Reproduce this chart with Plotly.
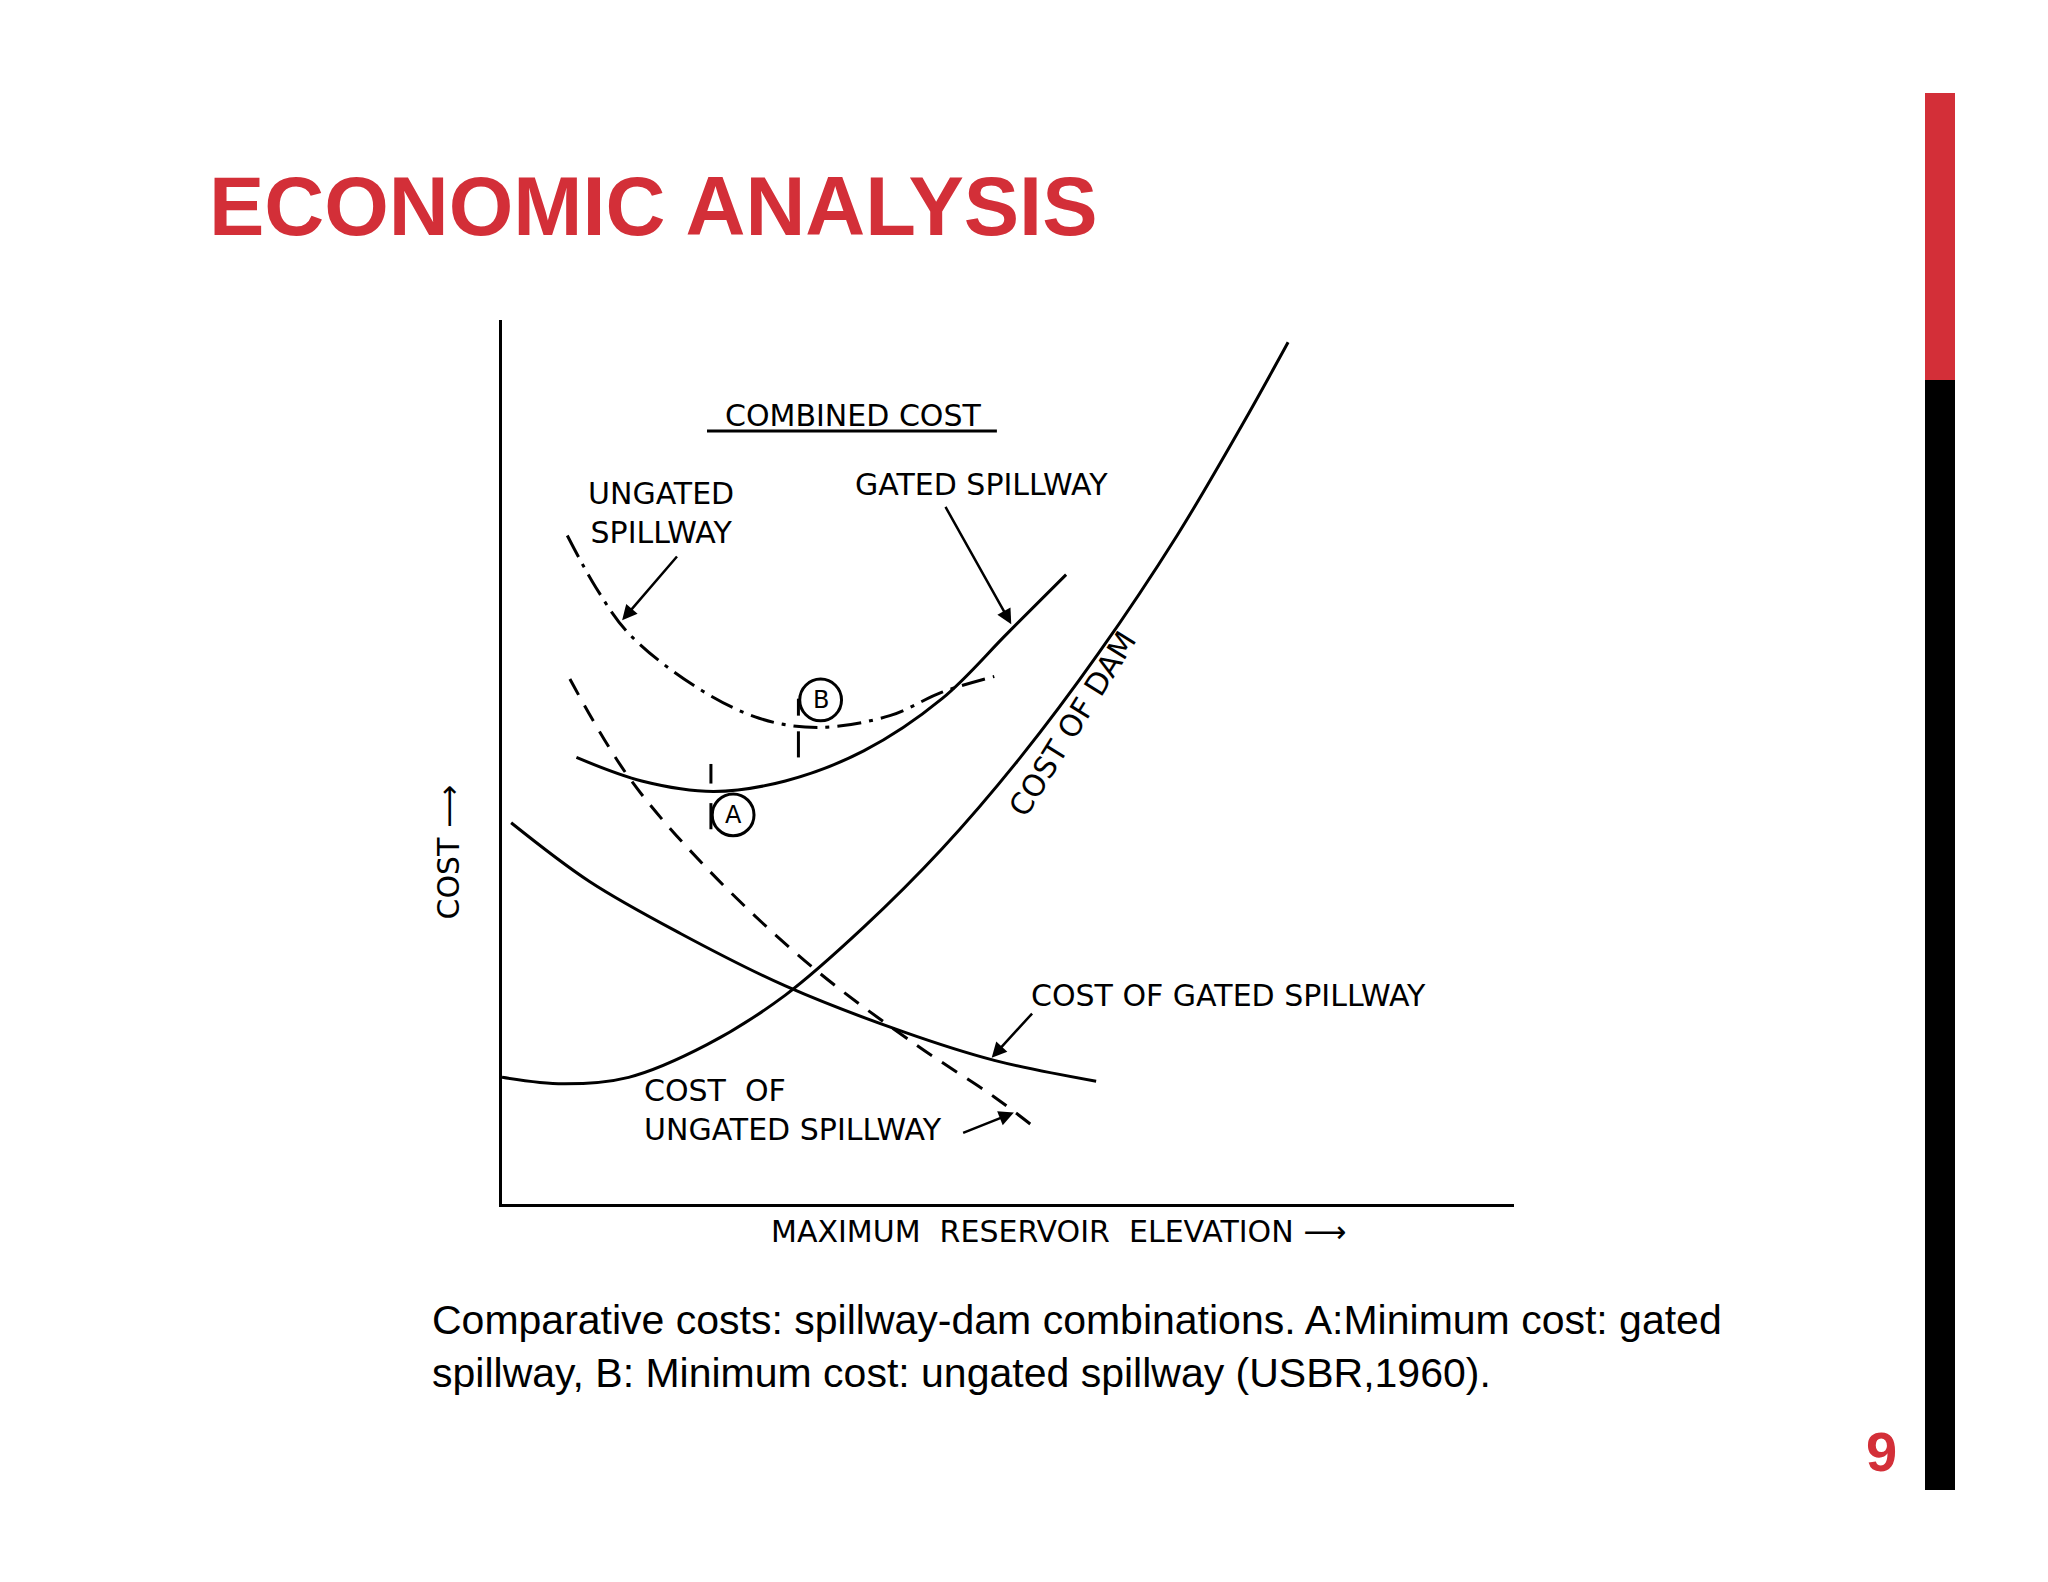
import plotly.graph_objects as go

dam_x = [0, 47, 97, 157, 217, 277, 337, 397, 457, 517, 567, 602]
dam_y = [97, 92, 97, 122, 160, 212, 272, 342, 422, 512, 597, 660]
gsp_x = [7, 67, 137, 217, 307, 377, 455]
gsp_y = [292, 247, 207, 167, 132, 110, 94]
usp_x = [52, 97, 157, 237, 317, 377, 410]
usp_y = [402, 327, 257, 182, 122, 82, 57]
cg_x = [57, 107, 162, 217, 277, 337, 387, 432]
cg_y = [342, 324, 316, 324, 347, 387, 437, 482]
cu_x = [50, 72, 97, 147, 197, 242, 297, 337, 377]
cu_y = [512, 472, 437, 397, 372, 365, 374, 392, 404]

fig = go.Figure()
line = dict(color="black", width=3, shape="spline")
fig.add_trace(go.Scatter(x=dam_x, y=dam_y, mode="lines", line=line))
fig.add_trace(go.Scatter(x=gsp_x, y=gsp_y, mode="lines", line=line))
fig.add_trace(go.Scatter(x=usp_x, y=usp_y, mode="lines", line=dict(line, dash="18px,12px")))
fig.add_trace(go.Scatter(x=cg_x, y=cg_y, mode="lines", line=line))
fig.add_trace(go.Scatter(x=cu_x, y=cu_y, mode="lines", line=dict(line, dash="24px,8px,4px,8px")))

F = dict(family="DejaVu Sans", size=30, color="black")
ann = [
    dict(x=269, y=604, text="COMBINED COST"),
    dict(x=122, y=529, text="UNGATED<br>SPILLWAY"),
    dict(x=367, y=551, text="GATED SPILLWAY"),
    dict(x=437, y=368, text="COST OF DAM", textangle=-58),
    dict(x=556, y=160, text="COST OF GATED SPILLWAY"),
    dict(x=107, y=72, text="COST  OF<br>UNGATED SPILLWAY", xanchor="left", align="left"),
    dict(x=177, y=298, text="A", font=dict(F, size=24)),
    dict(x=244, y=386, text="B", font=dict(F, size=24)),
]
for a in ann:
    a.setdefault("font", F)
    a.setdefault("showarrow", False)
    a.update(xref="x", yref="y")
    fig.add_annotation(**a)
fig.add_annotation(xref="paper", yref="paper", x=1050/2048, y=1-1243/1582, showarrow=False,
                   text="MAXIMUM  RESERVOIR  ELEVATION ⟶", font=F)
fig.add_annotation(xref="paper", yref="paper", x=420/2048, y=1-845/1582, showarrow=False,
                   text="COST ⟶", textangle=-90, font=F)

arrows = [((135, 497), (92, 447)), ((339, 535), (390, 444)),
          ((407, 147), (375, 112)), ((352, 54), (392, 70))]
for (x0, y0), (x1, y1) in arrows:
    fig.add_annotation(x=x1, y=y1, ax=x0, ay=y0, xref="x", yref="y", axref="x", ayref="y",
                       showarrow=True, arrowhead=2, arrowsize=1.2, arrowwidth=2.5,
                       arrowcolor="black", text="")

shapes = [
    dict(type="line", x0=157, x1=379, y0=592, y1=592),
    dict(type="circle", x0=161, x1=193, y0=282, y1=314),
    dict(type="circle", x0=228, x1=260, y0=370, y1=402),
    dict(type="line", x0=160, x1=160, y0=322, y1=337),
    dict(type="line", x0=160, x1=160, y0=287, y1=307),
    dict(type="line", x0=227, x1=227, y0=374, y1=387),
    dict(type="line", x0=227, x1=227, y0=342, y1=362),
]
for s in shapes:
    s.update(xref="x", yref="y", line=dict(color="black", width=3))
    fig.add_shape(**s)

# slide decorations
fig.add_shape(type="rect", xref="paper", yref="paper", x0=1917/2048, x1=1947/2048,
              y0=1-372/1582, y1=1-85/1582, fillcolor="#d32f38", line_width=0)
fig.add_shape(type="rect", xref="paper", yref="paper", x0=1917/2048, x1=1947/2048,
              y0=1-1482/1582, y1=1-372/1582, fillcolor="black", line_width=0)
fig.add_annotation(xref="paper", yref="paper", x=199/2048, y=1-150/1582, text="<b>ECONOMIC ANALYSIS</b>",
                   showarrow=False, xanchor="left", font=dict(family="Liberation Sans", size=83, color="#d32f38"))
fig.add_annotation(xref="paper", yref="paper", x=1891/2048, y=1-1477/1582, text="<b>9</b>",
                   showarrow=False, font=dict(family="Liberation Sans", size=56, color="#d32f38"))
fig.add_annotation(xref="paper", yref="paper", x=422/2048, y=1-1390/1582, xanchor="left", align="left",
                   text="Comparative costs: spillway-dam combinations. A:Minimum cost: gated<br>spillway, B: Minimum cost: ungated spillway (USBR,1960).",
                   showarrow=False, font=dict(family="Liberation Sans", size=41, color="black"))

fig.update_xaxes(domain=[494/2048, 1506/2048], range=[0, 775], showgrid=False, zeroline=False,
                 showticklabels=False, ticks="", showline=True, linecolor="black", linewidth=3)
fig.update_yaxes(domain=[1-1196/1582, 1-312/1582], range=[0, 677], showgrid=False, zeroline=False,
                 showticklabels=False, ticks="", showline=True, linecolor="black", linewidth=3)
fig.update_layout(width=2048, height=1582, margin=dict(l=0, r=0, t=0, b=0), showlegend=False,
                  plot_bgcolor="white", paper_bgcolor="white")
fig.write_html("out.html")
